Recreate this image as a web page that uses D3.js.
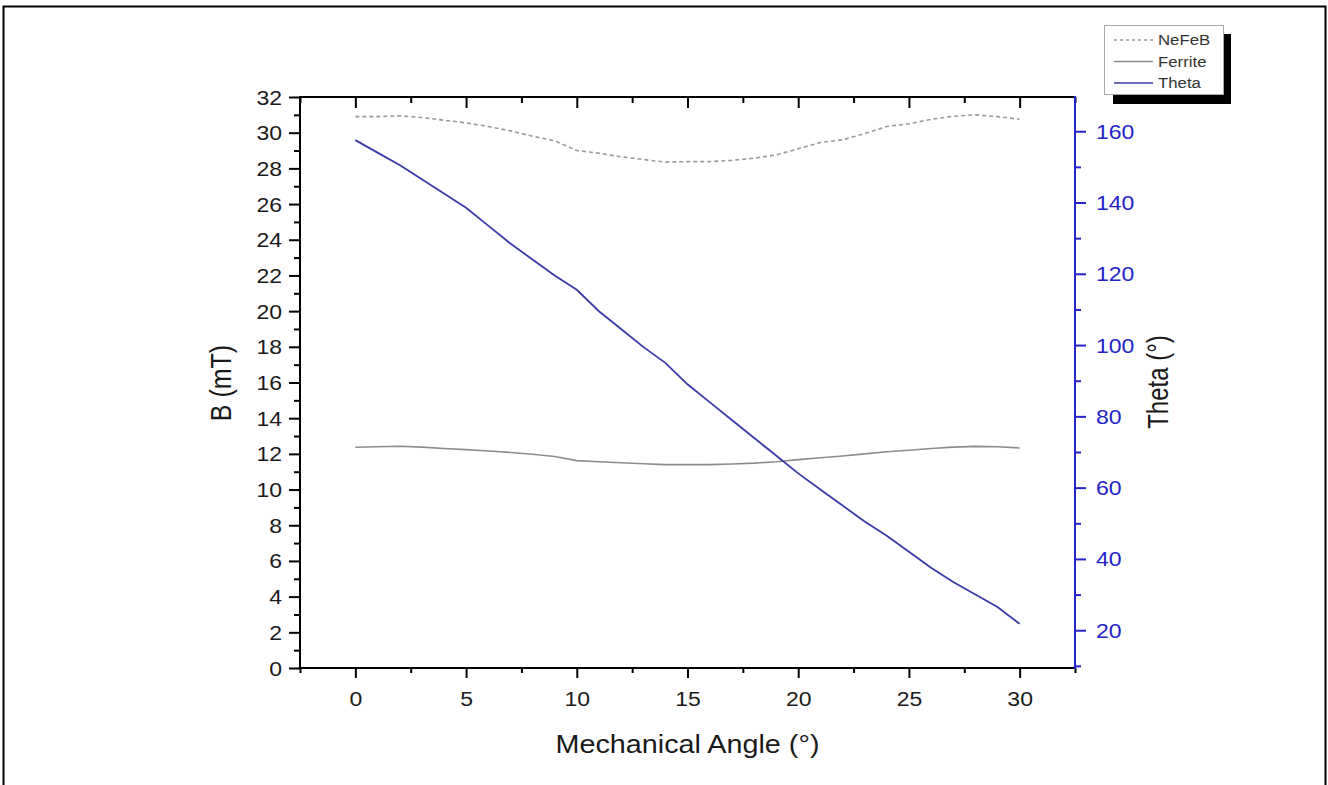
<!DOCTYPE html>
<html>
<head>
<meta charset="utf-8">
<script src="https://cdn.jsdelivr.net/npm/d3@7"></script>
<style>
  body { margin: 0; background: #fff; }
  svg { display: block; font-family: "Liberation Sans", Arial, sans-serif; }
</style>
</head>
<body>
<svg id="chart" width="1328" height="785"></svg>
<script>
// ---- data ----
const angles = [0, 1, 2, 3, 4, 5, 6, 7, 8, 9, 10, 11, 12, 13, 14, 15,
                16, 17, 18, 19, 20, 21, 22, 23, 24, 25, 26, 27, 28, 29, 30];
const nefeb = [30.9, 30.9, 30.95, 30.85, 30.7, 30.55, 30.35, 30.1, 29.8, 29.55, 29.0,
               28.85, 28.65, 28.5, 28.35, 28.38, 28.38, 28.45, 28.57, 28.75, 29.1,
               29.45, 29.6, 29.95, 30.35, 30.5, 30.75, 30.92, 31.0, 30.9, 30.75];
const ferrite = [12.37, 12.4, 12.43, 12.38, 12.3, 12.24, 12.16, 12.08, 11.98, 11.85, 11.62,
                 11.56, 11.5, 11.45, 11.4, 11.4, 11.4, 11.43, 11.48, 11.56, 11.68,
                 11.78, 11.88, 12.0, 12.12, 12.2, 12.3, 12.38, 12.42, 12.4, 12.33];
const theta = [157.5, 154, 150.5, 146.5, 142.5, 138.5, 133.5, 128.5, 124, 119.5, 115.5,
               109.5, 104.5, 99.5, 95, 89, 84, 79, 74, 69, 64,
               59.5, 55, 50.5, 46.5, 42, 37.5, 33.5, 30, 26.5, 21.8];
const xTicks = [0, 5, 10, 15, 20, 25, 30];
const bTicks = [0, 2, 4, 6, 8, 10, 12, 14, 16, 18, 20, 22, 24, 26, 28, 30, 32];
const thetaTicks = [20, 40, 60, 80, 100, 120, 140, 160];
const legendItems = ["NeFeB", "Ferrite", "Theta"];

// ---- layout ----
const plot = { left: 300, right: 1075, top: 97, bottom: 668 };
const stretch = 1.18;   // the source image is widened horizontally
const blue = "#2323c8";
const textCol = "#1a1a1a";

const svg = d3.select("#chart");

// outer frame of the figure
svg.append("rect")
  .attr("x", 3.5).attr("y", 6.5)
  .attr("width", 1322).attr("height", 820)
  .attr("fill", "none").attr("stroke", "#000").attr("stroke-width", 2);

const x = d3.scaleLinear().domain([-2.5, 32.5]).range([plot.left, plot.right]);
const yB = d3.scaleLinear().domain([0, 32]).range([plot.bottom, plot.top]);
const yT = d3.scaleLinear().domain([9.4, 169.6]).range([plot.bottom, plot.top]);

// minor ticks
const xMinor = d3.range(-2.5, 33, 2.5).filter(v => !xTicks.includes(v));
const bMinor = d3.range(1, 32, 2);
const tMinor = d3.range(10, 170, 10).filter(v => !thetaTicks.includes(v));

function styleAxis(g, color) {
  g.select(".domain").remove();
  g.selectAll("line").attr("stroke", color).attr("stroke-width", 2);
  g.selectAll("text").attr("fill", color === blue ? blue : textCol)
    .style("font-size", "19.5px");
}

// bottom axis
const gx = svg.append("g").attr("transform", `translate(0,${plot.bottom})`)
  .call(d3.axisBottom(x).tickValues(xTicks).tickSize(10).tickPadding(14).tickFormat(d3.format("d")));
styleAxis(gx, "#000");
gx.selectAll("text").attr("transform", `scale(${stretch},1)`);
svg.append("g").attr("transform", `translate(0,${plot.bottom})`)
  .call(d3.axisBottom(x).tickValues(xMinor).tickSize(5).tickFormat(""))
  .call(g => styleAxis(g, "#000"));

// top axis (ticks point inward)
svg.append("g").attr("transform", `translate(0,${plot.top})`)
  .call(d3.axisBottom(x).tickValues(xTicks).tickSize(11).tickFormat(""))
  .call(g => styleAxis(g, "#000"));
svg.append("g").attr("transform", `translate(0,${plot.top})`)
  .call(d3.axisBottom(x).tickValues(xMinor).tickSize(6).tickFormat(""))
  .call(g => styleAxis(g, "#000"));

// left axis
const gy = svg.append("g").attr("transform", `translate(${plot.left},0)`)
  .call(d3.axisLeft(yB).tickValues(bTicks).tickSize(11).tickPadding(0));
styleAxis(gy, "#000");
gy.selectAll("text").attr("x", -18 / stretch).attr("dy", "0.36em")
  .attr("transform", `scale(${stretch},1)`);
svg.append("g").attr("transform", `translate(${plot.left},0)`)
  .call(d3.axisLeft(yB).tickValues(bMinor).tickSize(6).tickFormat(""))
  .call(g => styleAxis(g, "#000"));

// right axis (blue)
const gr = svg.append("g").attr("transform", `translate(${plot.right},0)`)
  .call(d3.axisRight(yT).tickValues(thetaTicks).tickSize(11).tickPadding(0));
styleAxis(gr, blue);
gr.selectAll("text").attr("x", 21 / stretch).attr("dy", "0.36em")
  .attr("transform", `scale(${stretch},1)`);
svg.append("g").attr("transform", `translate(${plot.right},0)`)
  .call(d3.axisRight(yT).tickValues(tMinor).tickSize(6).tickFormat(""))
  .call(g => styleAxis(g, blue));

// plot frame
svg.append("line").attr("x1", plot.left - 1).attr("x2", plot.right).attr("y1", plot.top).attr("y2", plot.top)
  .attr("stroke", "#000").attr("stroke-width", 2);
svg.append("line").attr("x1", plot.left - 1).attr("x2", plot.right).attr("y1", plot.bottom).attr("y2", plot.bottom)
  .attr("stroke", "#000").attr("stroke-width", 2);
svg.append("line").attr("x1", plot.left).attr("x2", plot.left).attr("y1", plot.top).attr("y2", plot.bottom + 1)
  .attr("stroke", "#000").attr("stroke-width", 2);
svg.append("line").attr("x1", plot.right).attr("x2", plot.right).attr("y1", plot.top - 1).attr("y2", plot.bottom + 1)
  .attr("stroke", blue).attr("stroke-width", 2);

// series
const lineB = d3.line().x((d, i) => x(angles[i])).y(d => yB(d));
const lineT = d3.line().x((d, i) => x(angles[i])).y(d => yT(d));

svg.append("path").datum(nefeb).attr("d", lineB)
  .attr("fill", "none").attr("stroke", "#9a9a9a").attr("stroke-width", 1.6)
  .attr("stroke-dasharray", "4,3");
svg.append("path").datum(ferrite).attr("d", lineB)
  .attr("fill", "none").attr("stroke", "#8c8c8c").attr("stroke-width", 1.6);
svg.append("path").datum(theta).attr("d", lineT)
  .attr("fill", "none").attr("stroke", "#3a3aa8").attr("stroke-width", 1.8);

// axis titles
svg.append("text")
  .attr("transform", `translate(${(plot.left + plot.right) / 2},753) scale(1.15,1)`)
  .attr("text-anchor", "middle").attr("fill", textCol).style("font-size", "25px")
  .text("Mechanical Angle (°)");
svg.append("text")
  .attr("transform", `translate(231,383) scale(1.2,1) rotate(-90)`)
  .attr("text-anchor", "middle").attr("fill", textCol).style("font-size", "25px")
  .text("B (mT)");
svg.append("text")
  .attr("transform", `translate(1168,382) scale(1.2,1) rotate(-90)`)
  .attr("text-anchor", "middle").attr("fill", textCol).style("font-size", "24px")
  .text("Theta (°)");

// legend with drop shadow
const lg = svg.append("g").attr("transform", "translate(1104,25)");
lg.append("rect").attr("x", 9).attr("y", 9).attr("width", 118).attr("height", 70).attr("fill", "#000");
lg.append("rect").attr("x", 0.5).attr("y", 0.5).attr("width", 119).attr("height", 69)
  .attr("fill", "#fff").attr("stroke", "#aaa").attr("stroke-width", 1);
const legendStyle = [
  { stroke: "#9a9a9a", dash: "3,3" },
  { stroke: "#8c8c8c", dash: null },
  { stroke: "#3a3aa8", dash: null }
];
legendItems.forEach((name, i) => {
  const yy = 15 + i * 21.5;
  lg.append("line").attr("x1", 10).attr("x2", 49).attr("y1", yy).attr("y2", yy)
    .attr("stroke", legendStyle[i].stroke).attr("stroke-width", 1.4)
    .attr("stroke-dasharray", legendStyle[i].dash);
  lg.append("text").attr("transform", `translate(54,${yy}) scale(1.12,1)`)
    .attr("dy", "0.36em").attr("fill", "#333").style("font-size", "15px")
    .text(name);
});
</script>
</body>
</html>
